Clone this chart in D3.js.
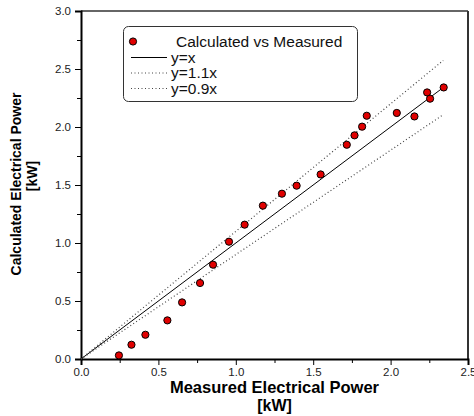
<!DOCTYPE html>
<html>
<head>
<meta charset="utf-8">
<script src="https://cdn.jsdelivr.net/npm/d3@7"></script>
<style>
  body { margin: 0; background: #fff; }
  svg { font-family: "Liberation Sans", Arial, sans-serif; }
</style>
</head>
<body>
<div id="chart"></div>
<script>
// Measured vs calculated electrical power [kW]
const measured   = [0.245, 0.326, 0.416, 0.558, 0.653, 0.769, 0.853, 0.956, 1.057, 1.175, 1.298, 1.393,
                    1.548, 1.717, 1.767, 1.816, 1.846, 2.040, 2.154, 2.236, 2.255, 2.343];
const calculated = [0.031, 0.123, 0.209, 0.333, 0.488, 0.655, 0.813, 1.011, 1.158, 1.322, 1.425, 1.494,
                    1.591, 1.847, 1.928, 2.003, 2.097, 2.121, 2.091, 2.298, 2.244, 2.341];

// reference lines y = k*x, drawn from 0 to lineEnd
const refLines = [
    { label: 'y=x',    k: 1.0, dash: null },
    { label: 'y=1.1x', k: 1.1, dash: '1,2.5' },
    { label: 'y=0.9x', k: 0.9, dash: '1,2.5' }
];
const lineEnd = 2.34;

const xTicks = [0, 0.5, 1.0, 1.5, 2.0, 2.5];
const yTicks = [0, 0.5, 1.0, 1.5, 2.0, 2.5, 3.0];

const width = 474, height = 416;
const margin = { left: 81, right: 6, top: 11, bottom: 57 };

const svg = d3.select('#chart').append('svg')
    .attr('width', width)
    .attr('height', height);

const x = d3.scaleLinear().domain([0, 2.5]).range([margin.left, width - margin.right]);
const y = d3.scaleLinear().domain([0, 3.0]).range([height - margin.bottom, margin.top]);

// frame (top and right)
svg.append('line')
    .attr('x1', x(0)).attr('x2', x(2.5))
    .attr('y1', y(3)).attr('y2', y(3))
    .attr('stroke', '#333').attr('stroke-width', 1.5);
svg.append('line')
    .attr('x1', x(2.5)).attr('x2', x(2.5))
    .attr('y1', y(3)).attr('y2', y(0))
    .attr('stroke', '#333').attr('stroke-width', 2);

// minor ticks
const xMinor = d3.range(0.25, 2.5, 0.5);
const yMinor = d3.range(0.25, 3.0, 0.5);
svg.append('g')
    .attr('transform', `translate(0,${y(0)})`)
    .call(d3.axisBottom(x).tickValues(xMinor).tickSize(4).tickFormat(''))
    .call(g => g.select('.domain').remove());
svg.append('g')
    .attr('transform', `translate(${x(0)},0)`)
    .call(d3.axisLeft(y).tickValues(yMinor).tickSize(4).tickFormat(''))
    .call(g => g.select('.domain').remove());

// main axes
const xAxis = svg.append('g')
    .attr('transform', `translate(0,${y(0)})`)
    .call(d3.axisBottom(x).tickValues(xTicks).tickSize(6).tickPadding(3).tickFormat(d3.format('.1f')));
const yAxis = svg.append('g')
    .attr('transform', `translate(${x(0)},0)`)
    .call(d3.axisLeft(y).tickValues(yTicks).tickSize(6).tickPadding(4).tickFormat(d3.format('.1f')));

[xAxis, yAxis].forEach(g => {
    g.select('.domain').attr('stroke', '#000').attr('stroke-width', 2);
    g.selectAll('.tick line').attr('stroke', '#000');
    g.selectAll('.tick text')
        .attr('font-size', 11.5)
        .attr('font-family', '"Liberation Sans", Arial, sans-serif')
        .attr('fill', '#222');
});

// reference lines
refLines.forEach(r => {
    svg.append('line')
        .attr('x1', x(0)).attr('y1', y(0))
        .attr('x2', x(lineEnd)).attr('y2', y(lineEnd * r.k))
        .attr('stroke', r.dash ? '#444' : '#000')
        .attr('stroke-width', r.dash ? 1.2 : 1)
        .attr('stroke-dasharray', r.dash);
});

// data points
svg.selectAll('.pt')
    .data(measured.map((m, i) => [m, calculated[i]]))
    .enter().append('circle')
    .attr('cx', d => x(d[0]))
    .attr('cy', d => y(d[1]))
    .attr('r', 3.6)
    .attr('fill', '#e00000')
    .attr('stroke', '#000')
    .attr('stroke-width', 1);

// legend
const legend = svg.append('g');
legend.append('rect')
    .attr('x', 123.5).attr('y', 26.5)
    .attr('width', 234).attr('height', 75)
    .attr('rx', 5)
    .attr('fill', '#fff')
    .attr('stroke', '#333')
    .attr('stroke-width', 1);

const rowY = [41.5, 57.5, 73, 88.5];
legend.append('circle')
    .attr('cx', 133).attr('cy', rowY[0])
    .attr('r', 3.6)
    .attr('fill', '#e00000').attr('stroke', '#000');
legend.append('text')
    .attr('x', 176).attr('y', rowY[0])
    .attr('dy', '0.35em')
    .attr('font-size', 15.5)
    .attr('fill', '#111')
    .text('Calculated vs Measured');

refLines.forEach((r, i) => {
    const yy = rowY[i + 1];
    legend.append('line')
        .attr('x1', 131).attr('x2', 167)
        .attr('y1', yy).attr('y2', yy)
        .attr('stroke', r.dash ? '#444' : '#000')
        .attr('stroke-width', 1)
        .attr('stroke-dasharray', r.dash);
    legend.append('text')
        .attr('x', 171).attr('y', yy)
        .attr('dy', '0.35em')
        .attr('font-size', 15.5)
        .attr('fill', '#111')
        .text(r.label);
});

// axis titles
const cx = (x(0) + x(2.5)) / 2;
svg.append('text')
    .attr('x', cx).attr('y', 393)
    .attr('text-anchor', 'middle')
    .attr('font-size', 16.5).attr('font-weight', 'bold')
    .text('Measured Electrical Power');
svg.append('text')
    .attr('x', cx).attr('y', 411)
    .attr('text-anchor', 'middle')
    .attr('font-size', 16).attr('font-weight', 'bold')
    .text('[kW]');

svg.append('text')
    .attr('transform', 'translate(21,184) rotate(-90)')
    .attr('text-anchor', 'middle')
    .attr('font-size', 14).attr('font-weight', 'bold')
    .text('Calculated Electrical Power');
svg.append('text')
    .attr('transform', 'translate(37,176) rotate(-90)')
    .attr('text-anchor', 'middle')
    .attr('font-size', 14).attr('font-weight', 'bold')
    .text('[kW]');
</script>
</body>
</html>
